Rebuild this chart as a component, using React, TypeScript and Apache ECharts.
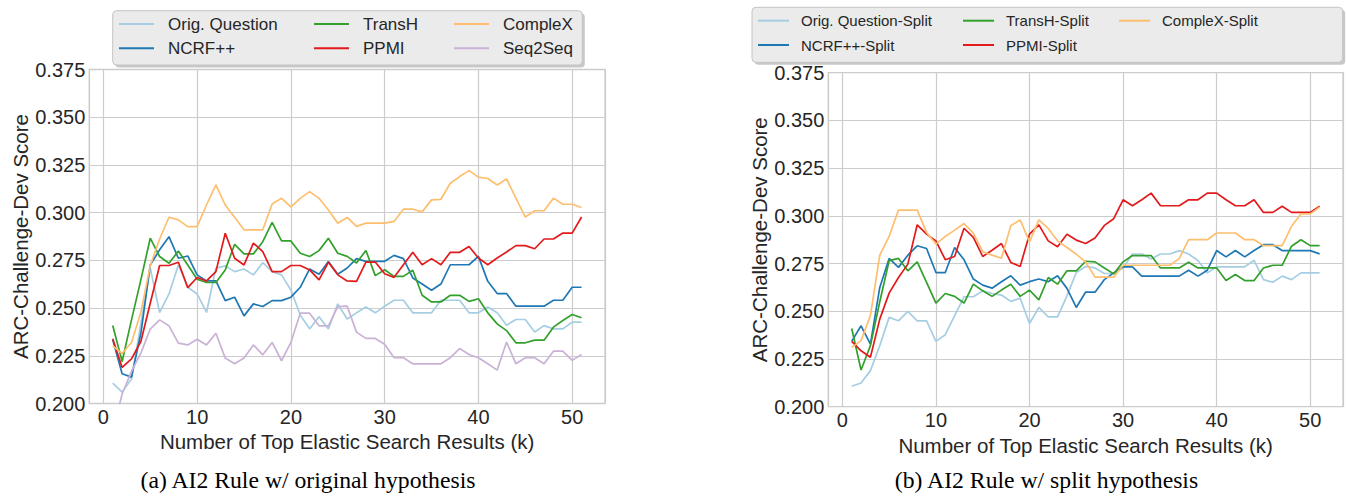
import React, { useEffect, useRef } from 'react';
import * as echarts from 'echarts';

// ---------- data ----------
const K = [1, 2, 3, 4, 5, 6, 7, 8, 9, 10, 11, 12, 13, 14, 15, 16, 17, 18, 19, 20, 21, 22, 23, 24, 25, 26, 27, 28, 29, 30, 31, 32, 33, 34, 35, 36, 37, 38, 39, 40, 41, 42, 43, 44, 45, 46, 47, 48, 49, 50, 51];

// (a) original hypothesis
const A_ORIG = [0.2107, 0.206, 0.2128, 0.2421, 0.2709, 0.2477, 0.2574, 0.2726, 0.2609, 0.2574, 0.2477, 0.2709, 0.2721, 0.2691, 0.2705, 0.2674, 0.2738, 0.2691, 0.2674, 0.2595, 0.2464, 0.2391, 0.2454, 0.2391, 0.2522, 0.2443, 0.2475, 0.2506, 0.2475, 0.251, 0.2541, 0.2541, 0.2475, 0.2475, 0.2475, 0.2541, 0.2541, 0.2541, 0.2475, 0.2475, 0.2506, 0.2475, 0.241, 0.244, 0.244, 0.2375, 0.2408, 0.2391, 0.2391, 0.2426, 0.2426];
const A_NCRF = [0.2334, 0.2156, 0.2138, 0.2368, 0.2726, 0.2805, 0.2874, 0.2761, 0.2773, 0.2674, 0.2642, 0.2642, 0.2539, 0.2557, 0.2459, 0.2522, 0.2508, 0.2539, 0.2539, 0.2557, 0.2609, 0.2705, 0.2677, 0.2744, 0.2677, 0.271, 0.2759, 0.2745, 0.2745, 0.2745, 0.2776, 0.2759, 0.2658, 0.2626, 0.2593, 0.2626, 0.2727, 0.2727, 0.2727, 0.2771, 0.264, 0.2576, 0.2576, 0.251, 0.251, 0.251, 0.251, 0.2541, 0.2541, 0.2609, 0.2609];
const A_TRANSH = [0.2409, 0.222, 0.2438, 0.2648, 0.2866, 0.277, 0.2735, 0.2799, 0.2726, 0.2651, 0.2634, 0.2634, 0.27, 0.2834, 0.2784, 0.2784, 0.2848, 0.2949, 0.2852, 0.2852, 0.2787, 0.277, 0.2801, 0.2866, 0.2787, 0.2771, 0.2736, 0.2802, 0.267, 0.2701, 0.2666, 0.2666, 0.2698, 0.2567, 0.2532, 0.2532, 0.2567, 0.2567, 0.2535, 0.2549, 0.2475, 0.2417, 0.2382, 0.2318, 0.2318, 0.2332, 0.2332, 0.24, 0.2435, 0.2466, 0.2449];
const A_PPMI = [0.2339, 0.2189, 0.2234, 0.2325, 0.2525, 0.2723, 0.2723, 0.274, 0.2607, 0.266, 0.2642, 0.2691, 0.2892, 0.2761, 0.2726, 0.284, 0.2796, 0.2691, 0.2691, 0.2723, 0.2723, 0.27, 0.2648, 0.274, 0.2674, 0.2642, 0.264, 0.2741, 0.2741, 0.268, 0.2661, 0.2727, 0.2792, 0.2727, 0.2759, 0.2727, 0.2792, 0.2792, 0.2823, 0.2762, 0.2727, 0.2762, 0.2794, 0.2827, 0.2827, 0.2811, 0.2862, 0.2862, 0.2893, 0.2893, 0.2977];
const A_COMPLEX = [0.2302, 0.2262, 0.232, 0.2478, 0.2722, 0.2862, 0.2976, 0.2962, 0.2927, 0.2927, 0.304, 0.3145, 0.304, 0.2976, 0.291, 0.291, 0.291, 0.3045, 0.3075, 0.303, 0.3075, 0.311, 0.3075, 0.3014, 0.2944, 0.2975, 0.2928, 0.2945, 0.2945, 0.2945, 0.2954, 0.3018, 0.3018, 0.3004, 0.3067, 0.307, 0.3154, 0.3189, 0.322, 0.3186, 0.3179, 0.3145, 0.3177, 0.3076, 0.2977, 0.301, 0.301, 0.3076, 0.3044, 0.3044, 0.3027];
const A_SEQ2SEQ = [0.185, 0.205, 0.2168, 0.2264, 0.239, 0.2438, 0.2407, 0.2316, 0.2307, 0.2337, 0.2307, 0.2368, 0.2238, 0.2208, 0.2238, 0.2307, 0.2255, 0.232, 0.2224, 0.232, 0.2473, 0.2473, 0.2407, 0.2407, 0.2508, 0.251, 0.2374, 0.2341, 0.2341, 0.231, 0.224, 0.224, 0.2208, 0.2208, 0.2208, 0.2208, 0.224, 0.2288, 0.2257, 0.224, 0.2208, 0.2175, 0.2322, 0.2208, 0.224, 0.224, 0.2208, 0.2274, 0.2274, 0.2226, 0.2257];

// (b) split hypothesis
const B_ORIG = [0.2107, 0.2124, 0.2189, 0.232, 0.2468, 0.245, 0.2499, 0.245, 0.245, 0.2342, 0.2377, 0.2477, 0.2576, 0.2576, 0.2607, 0.2593, 0.2585, 0.2552, 0.2569, 0.2436, 0.252, 0.2471, 0.2471, 0.2581, 0.2703, 0.2735, 0.2727, 0.2698, 0.2698, 0.2727, 0.28, 0.28, 0.2774, 0.28, 0.28, 0.2818, 0.28, 0.2766, 0.2701, 0.2733, 0.2733, 0.2733, 0.2733, 0.2767, 0.2666, 0.2652, 0.2684, 0.2666, 0.2701, 0.2701, 0.2701];
const B_NCRF = [0.2342, 0.2424, 0.2328, 0.2625, 0.2777, 0.273, 0.2794, 0.2843, 0.2829, 0.2703, 0.2703, 0.2834, 0.277, 0.2669, 0.2637, 0.2621, 0.2655, 0.2686, 0.2637, 0.2655, 0.2669, 0.2655, 0.2686, 0.262, 0.252, 0.2601, 0.26, 0.2666, 0.2701, 0.2733, 0.2733, 0.2684, 0.2684, 0.2684, 0.2684, 0.2684, 0.2715, 0.2684, 0.2715, 0.2818, 0.2785, 0.2818, 0.2785, 0.2818, 0.2849, 0.2849, 0.2818, 0.2818, 0.2818, 0.2818, 0.2801];
const B_TRANSH = [0.241, 0.2192, 0.232, 0.255, 0.2765, 0.2777, 0.2712, 0.2759, 0.2651, 0.2543, 0.2593, 0.2578, 0.2543, 0.2642, 0.2607, 0.2578, 0.2611, 0.2642, 0.2578, 0.2611, 0.256, 0.2677, 0.2642, 0.2712, 0.2712, 0.2762, 0.2759, 0.2727, 0.2696, 0.2759, 0.2792, 0.2792, 0.2792, 0.2727, 0.2727, 0.2727, 0.2757, 0.2727, 0.2727, 0.2727, 0.2661, 0.2693, 0.2661, 0.2661, 0.2727, 0.2741, 0.2741, 0.2841, 0.2875, 0.2844, 0.2844];
const B_PPMI = [0.2342, 0.2293, 0.2259, 0.2459, 0.2595, 0.2677, 0.2747, 0.2953, 0.2904, 0.2869, 0.277, 0.2787, 0.2935, 0.2887, 0.2787, 0.282, 0.2855, 0.2756, 0.2735, 0.2904, 0.2953, 0.2869, 0.2838, 0.2904, 0.2873, 0.2855, 0.2884, 0.295, 0.2985, 0.3084, 0.3053, 0.3084, 0.3119, 0.3053, 0.3053, 0.3053, 0.3084, 0.3084, 0.3119, 0.3119, 0.3084, 0.3053, 0.3053, 0.3084, 0.3018, 0.3018, 0.305, 0.3018, 0.3018, 0.3018, 0.305];
const B_COMPLEX = [0.2311, 0.2346, 0.2477, 0.2794, 0.2892, 0.303, 0.303, 0.303, 0.2913, 0.2852, 0.2892, 0.2925, 0.296, 0.2909, 0.2812, 0.2794, 0.2778, 0.2948, 0.2979, 0.2864, 0.2979, 0.2934, 0.2869, 0.2834, 0.2799, 0.2758, 0.2679, 0.2679, 0.2679, 0.2741, 0.2741, 0.2741, 0.2741, 0.2741, 0.2741, 0.2776, 0.2875, 0.2875, 0.2875, 0.291, 0.291, 0.291, 0.2875, 0.2875, 0.2844, 0.2844, 0.2844, 0.2945, 0.301, 0.301, 0.3046];

const NAMES_A = ['Orig. Question', 'NCRF++', 'TransH', 'PPMI', 'CompleX', 'Seq2Seq'];
const NAMES_B = ['Orig. Question-Split', 'NCRF++-Split', 'TransH-Split', 'PPMI-Split', 'CompleX-Split'];
const COLORS = ['#a6cee3', '#1f78b4', '#33a02c', '#e31a1c', '#fdbf6f', '#cab2d6'];
const Y_TICKS = [0.2, 0.225, 0.25, 0.275, 0.3, 0.325, 0.35, 0.375];
const X_TITLE = 'Number of Top Elastic Search Results (k)';
const Y_TITLE = 'ARC-Challenge-Dev Score';
const CAPTION_A = '(a) AI2 Rule w/ original hypothesis';
const CAPTION_B = '(b) AI2 Rule w/ split hypothesis';

// ---------- styles ----------
const SANS = "'Liberation Sans', Arial, Helvetica, sans-serif";
const SERIF = "'Liberation Serif', 'Times New Roman', serif";
const TXT = '#262626';
const GRIDC = '#cccccc';

const GRID_A = { left: 89.3, top: 69.5, width: 515.7, height: 334 };
const GRID_B = { left: 828.3, top: 72.7, width: 516.7, height: 334 };

function xAxis(gridIndex: number) {
  return {
    type: 'value',
    gridIndex,
    min: -1.5,
    max: 53.5,
    axisLine: { show: false },
    axisTick: { show: false },
    axisLabel: {
      fontSize: 20,
      color: TXT,
      fontFamily: SANS,
      margin: 3,
      formatter: (v: number) => (Math.abs(v % 10) < 1e-9 ? String(v) : ''),
    },
    splitLine: { show: true, lineStyle: { color: GRIDC, width: 1.2 } },
    name: X_TITLE,
    nameLocation: 'middle',
    nameGap: 26,
    nameTextStyle: { fontSize: 20.5, color: TXT, fontFamily: SANS },
  };
}

function yAxis(gridIndex: number) {
  return {
    type: 'value',
    gridIndex,
    min: Y_TICKS[0],
    max: Y_TICKS[Y_TICKS.length - 1],
    interval: 0.025,
    axisLine: { show: false },
    axisTick: { show: false },
    axisLabel: {
      fontSize: 20,
      color: TXT,
      fontFamily: SANS,
      margin: 4,
      formatter: (v: number) => v.toFixed(3),
    },
    splitLine: { show: true, lineStyle: { color: GRIDC, width: 1.2 } },
    name: Y_TITLE,
    nameLocation: 'middle',
    nameRotate: 90,
    nameGap: 58,
    nameTextStyle: { fontSize: 20.5, color: TXT, fontFamily: SANS },
  };
}

function lineSeries(name: string, vals: number[], color: string, idx: number) {
  return {
    type: 'line',
    name,
    xAxisIndex: idx,
    yAxisIndex: idx,
    data: K.map((k, i) => [k, vals[i]]),
    showSymbol: false,
    symbol: 'none',
    clip: true,
    color,
    itemStyle: { color },
    lineStyle: { color, width: 1.7 },
    emphasis: { disabled: true },
  };
}

function legendItem(name: string, left: number, top: number, fontSize: number, itemWidth: number, pad: number) {
  return {
    show: true,
    left,
    top,
    padding: 0,
    orient: 'horizontal',
    itemWidth,
    itemHeight: 2,
    icon: 'rect',
    selectedMode: false,
    data: [name],
    textStyle: { fontSize, color: TXT, fontFamily: SANS, padding: [0, 0, 0, pad], lineHeight: fontSize + 3 },
  };
}

function legendBox(x: number, y: number, w: number, h: number) {
  return [
    { type: 'rect', z: 1, shape: { x: x + 2.5, y: y + 2.5, width: w, height: h, r: 4 }, style: { fill: '#9a9a9a', opacity: 0.55 } },
    { type: 'rect', z: 2, shape: { x, y, width: w, height: h, r: 4 }, style: { fill: '#ebebeb', stroke: '#c4c4c4', lineWidth: 1 } },
  ];
}

export default function App() {
  const ref = useRef<HTMLDivElement>(null);
  useEffect(() => {
    if (!ref.current) return;
    const chart = echarts.init(ref.current, null, { renderer: 'svg' });
    const seriesA = [A_ORIG, A_NCRF, A_TRANSH, A_PPMI, A_COMPLEX, A_SEQ2SEQ].map((v, i) => lineSeries(NAMES_A[i], v, COLORS[i], 0));
    const seriesB = [B_ORIG, B_NCRF, B_TRANSH, B_PPMI, B_COMPLEX].map((v, i) => lineSeries(NAMES_B[i], v, COLORS[i], 1));

    const colA = [119, 314, 454];
    const rowA = [14, 38.3];
    const colB = [758, 963, 1119];
    const rowB = [11.7, 36];
    const legends: any[] = [];
    NAMES_A.forEach((n, i) => {
      legends.push(legendItem(n, colA[Math.floor(i / 2)], rowA[i % 2], 17, 35, 9));
    });
    NAMES_B.forEach((n, i) => {
      legends.push(legendItem(n, colB[Math.floor(i / 2)], rowB[i % 2], 15, 31, 7));
    });

    chart.setOption({
      animation: false,
      backgroundColor: '#ffffff',
      grid: [
        { ...GRID_A, show: true, borderColor: GRIDC, borderWidth: 1.3, backgroundColor: '#ffffff', containLabel: false },
        { ...GRID_B, show: true, borderColor: GRIDC, borderWidth: 1.3, backgroundColor: '#ffffff', containLabel: false },
      ],
      xAxis: [xAxis(0), xAxis(1)],
      yAxis: [yAxis(0), yAxis(1)],
      legend: legends,
      graphic: [
        ...legendBox(112.7, 10.7, 469.6, 54.3),
        ...legendBox(752, 7.3, 590.7, 55),
        {
          type: 'text',
          x: 308,
          y: 480,
          style: { text: CAPTION_A, fontSize: 23.7, fontFamily: SERIF, fill: '#000', textAlign: 'center', textVerticalAlign: 'middle' },
        },
        {
          type: 'text',
          x: 1046.5,
          y: 480,
          style: { text: CAPTION_B, fontSize: 23.7, fontFamily: SERIF, fill: '#000', textAlign: 'center', textVerticalAlign: 'middle' },
        },
      ],
      series: [...seriesA, ...seriesB],
    });
    return () => chart.dispose();
  }, []);
  return (
    <div
      ref={ref}
      style={{ position: 'fixed', left: 0, top: 0, width: 1346, height: 496, background: '#ffffff' }}
    />
  );
}
